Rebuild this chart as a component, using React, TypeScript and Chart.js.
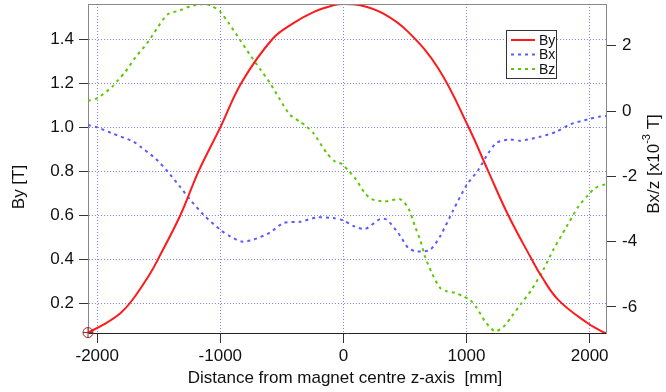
import React, { useEffect, useRef } from 'react';
import { Chart, registerables } from 'chart.js';

Chart.register(...registerables);

const FONT = '"Liberation Sans", Arial, Helvetica, sans-serif';

const xTicks = [-2000, -1000, 0, 1000, 2000];
const leftTicks = [0.2, 0.4, 0.6, 0.8, 1.0, 1.2, 1.4];
const rightTicks = [-6, -4, -2, 0, 2];

const xMin = -2075;
const xMax = 2133;
const leftMin = 0.064;
const leftMax = 1.562;
const rightMin = -6.8;
const rightMax = 3.28;

const byX = [-2075, -1950, -1812, -1718, -1569, -1506, -1325, -1177, -1000, -825, -573, -406, -243, -81, 0, 136, 325, 528, 771, 1015, 1177, 1339, 1529, 1610, 1745, 1976, 2110, 2133];
const byValues = [0.066, 0.102, 0.154, 0.212, 0.336, 0.4, 0.6, 0.8, 1.0, 1.207, 1.405, 1.475, 1.525, 1.556, 1.562, 1.556, 1.518, 1.434, 1.268, 1.003, 0.8, 0.6, 0.4, 0.321, 0.215, 0.112, 0.068, 0.064];

const bxX = [-2075, -2000, -1880, -1705, -1650, -1528, -1433, -1325, -1244, -1136, -1000, -920, -825, -731, -595, -487, -351, -216, -81, 0, 81, 176, 298, 352, 446, 528, 596, 704, 785, 893, 1002, 1096, 1177, 1245, 1353, 1434, 1597, 1732, 1840, 1989, 2084, 2133];
const bxValues = [-0.43, -0.5, -0.68, -0.94, -1.09, -1.45, -1.83, -2.33, -2.72, -3.18, -3.64, -3.84, -4.0, -3.94, -3.72, -3.43, -3.39, -3.26, -3.28, -3.35, -3.52, -3.61, -3.31, -3.33, -3.74, -4.2, -4.3, -4.25, -3.84, -3.03, -2.26, -1.8, -1.29, -0.97, -0.87, -0.91, -0.79, -0.63, -0.41, -0.25, -0.17, -0.15];

const bzX = [-2075, -2002, -1880, -1826, -1772, -1691, -1596, -1515, -1429, -1325, -1244, -1123, -1068, -1000, -933, -838, -757, -676, -595, -514, -433, -351, -297, -243, -135, -67, -13, 41, 95, 176, 230, 338, 460, 528, 582, 623, 663, 718, 785, 839, 907, 974, 1028, 1083, 1150, 1231, 1301, 1367, 1448, 1529, 1624, 1705, 1813, 1908, 1989, 2043, 2113, 2133];
const bzValues = [0.315, 0.39, 0.74, 0.97, 1.2, 1.64, 2.07, 2.53, 2.96, 3.09, 3.21, 3.28, 3.22, 3.04, 2.7, 2.17, 1.71, 1.28, 0.85, 0.34, -0.12, -0.33, -0.48, -0.68, -1.29, -1.55, -1.62, -1.83, -2.06, -2.52, -2.7, -2.77, -2.7, -2.98, -3.54, -3.94, -4.46, -4.96, -5.42, -5.52, -5.57, -5.68, -5.78, -6.03, -6.44, -6.75, -6.61, -6.29, -5.88, -5.47, -4.86, -4.25, -3.54, -2.93, -2.57, -2.36, -2.26, -2.24];

const seriesNames = ['By', 'Bx', 'Bz'];
const seriesColors = ['#ff1a1a', '#5a5aff', '#5cc800'];

const xTitle = 'Distance from magnet centre z-axis  [mm]';
const leftTitle = 'By [T]';
const rightTitleParts = ['Bx/z [x10', '-3', ' T]'];

const toPoints = (xs: number[], ys: number[]) => xs.map((x, i) => ({ x, y: ys[i] }));

const noPad = (s: any) => {
  s.paddingTop = 0;
  s.paddingBottom = 0;
  s.paddingLeft = 0;
  s.paddingRight = 0;
};

const decorPlugin = {
  id: 'decor',
  afterDatasetsDraw(chart: any) {
    const { ctx, chartArea } = chart;
    ctx.save();
    // top frame line
    ctx.strokeStyle = '#888';
    ctx.lineWidth = 1;
    ctx.beginPath();
    ctx.moveTo(chartArea.left, Math.round(chartArea.top) + 0.5);
    ctx.lineTo(chartArea.right, Math.round(chartArea.top) + 0.5);
    ctx.stroke();

    // start marker on first By point
    const meta = chart.getDatasetMeta(0);
    const p0 = meta.data[0];
    if (p0) {
      ctx.strokeStyle = '#9a2a2a';
      ctx.lineWidth = 1;
      ctx.beginPath();
      ctx.arc(p0.x, p0.y, 5, 0, Math.PI * 2);
      ctx.moveTo(p0.x - 5, p0.y);
      ctx.lineTo(p0.x + 5, p0.y);
      ctx.moveTo(p0.x, p0.y - 5);
      ctx.lineTo(p0.x, p0.y + 5);
      ctx.stroke();
    }

    // legend
    const lx = 506.5, ly = 30.5, lw = 50, lh = 48;
    ctx.fillStyle = '#fff';
    ctx.fillRect(lx, ly, lw, lh);
    ctx.strokeStyle = '#333';
    ctx.lineWidth = 1;
    ctx.strokeRect(lx, ly, lw, lh);
    const rows = [40, 54.5, 69];
    const dashes = [[], [3, 4], [3, 4]];
    ctx.font = `14px ${FONT}`;
    ctx.textBaseline = 'middle';
    ctx.textAlign = 'left';
    seriesNames.forEach((name, i) => {
      ctx.save();
      ctx.strokeStyle = seriesColors[i];
      ctx.lineWidth = 2;
      ctx.setLineDash(dashes[i]);
      ctx.beginPath();
      ctx.moveTo(511, rows[i]);
      ctx.lineTo(535, rows[i]);
      ctx.stroke();
      ctx.restore();
      ctx.fillStyle = '#111';
      ctx.fillText(name, 539, rows[i] + 1);
    });

    // axis titles
    ctx.fillStyle = '#111';
    ctx.font = `17px ${FONT}`;
    ctx.textAlign = 'center';
    ctx.textBaseline = 'middle';
    ctx.fillText(xTitle, 345, 378);

    ctx.save();
    ctx.translate(19, 187);
    ctx.rotate(-Math.PI / 2);
    ctx.fillText(leftTitle, 0, 0);
    ctx.restore();

    // right title with superscript
    ctx.save();
    ctx.translate(654, 164);
    ctx.rotate(-Math.PI / 2);
    ctx.textAlign = 'left';
    const big = `17px ${FONT}`;
    const small = `11px ${FONT}`;
    ctx.font = big;
    const w1 = ctx.measureText(rightTitleParts[0]).width;
    const w3 = ctx.measureText(rightTitleParts[2]).width;
    ctx.font = small;
    const w2 = ctx.measureText(rightTitleParts[1]).width;
    const total = w1 + w2 + w3;
    let cx = -total / 2;
    ctx.font = big;
    ctx.fillText(rightTitleParts[0], cx, 0);
    cx += w1;
    ctx.font = small;
    ctx.fillText(rightTitleParts[1], cx, -7);
    cx += w2;
    ctx.font = big;
    ctx.fillText(rightTitleParts[2], cx, 0);
    ctx.restore();

    ctx.restore();
  },
};

export default function App() {
  const canvasRef = useRef<HTMLCanvasElement | null>(null);

  useEffect(() => {
    const canvas = canvasRef.current;
    if (!canvas) return;
    const tickFont = { family: FONT, size: 17 };
    const chart = new Chart(canvas, {
      type: 'line',
      data: {
        datasets: [
          {
            label: seriesNames[0],
            data: toPoints(byX, byValues),
            borderColor: seriesColors[0],
            borderWidth: 2,
            pointRadius: 0,
            tension: 0.4,
            yAxisID: 'y',
          },
          {
            label: seriesNames[1],
            data: toPoints(bxX, bxValues),
            borderColor: seriesColors[1],
            borderWidth: 2,
            borderDash: [3, 4],
            pointRadius: 0,
            tension: 0.25,
            yAxisID: 'y2',
          },
          {
            label: seriesNames[2],
            data: toPoints(bzX, bzValues),
            borderColor: seriesColors[2],
            borderWidth: 2,
            borderDash: [3, 4],
            pointRadius: 0,
            tension: 0.25,
            yAxisID: 'y2',
          },
        ],
      },
      options: {
        responsive: false,
        animation: false,
        events: [],
        layout: { padding: { top: 4, left: 0, right: 0, bottom: 0 } },
        plugins: { legend: { display: false }, tooltip: { enabled: false }, title: { display: false } },
        scales: {
          x: {
            type: 'linear',
            position: 'bottom',
            min: xMin,
            max: xMax,
            afterBuildTicks: (s: any) => { s.ticks = xTicks.map((v) => ({ value: v })); },
            afterFit: (s: any) => { s.height = 59; noPad(s); },
            ticks: { font: tickFont, color: '#111', padding: 3, maxRotation: 0, autoSkip: false, callback: (v: any) => String(v) },
            grid: { color: '#8080ff', lineWidth: 1, tickLength: 10, tickColor: '#333', tickWidth: 1, tickBorderDash: [] },
            border: { color: '#222', width: 1, dash: [1, 2] },
          },
          y: {
            type: 'linear',
            position: 'left',
            min: leftMin,
            max: leftMax,
            afterBuildTicks: (s: any) => { s.ticks = leftTicks.map((v) => ({ value: v })); },
            afterFit: (s: any) => { s.width = 88; noPad(s); },
            ticks: { font: tickFont, color: '#111', padding: 5, autoSkip: false, callback: (v: any) => Number(v).toFixed(1) },
            grid: { color: '#8080ff', lineWidth: 1, tickLength: 9, tickColor: '#333', tickWidth: 1, tickBorderDash: [] },
            border: { color: '#888', width: 1, dash: [1, 2] },
          },
          y2: {
            type: 'linear',
            position: 'right',
            min: rightMin,
            max: rightMax,
            afterBuildTicks: (s: any) => { s.ticks = rightTicks.map((v) => ({ value: v })); },
            afterFit: (s: any) => { s.width = 60; noPad(s); },
            ticks: { font: tickFont, color: '#111', padding: 6, autoSkip: false, callback: (v: any) => String(v) },
            grid: { drawOnChartArea: false, tickLength: 10, tickColor: '#333', tickWidth: 1, tickBorderDash: [] },
            border: { color: '#888', width: 1 },
          },
        },
      },
      plugins: [decorPlugin],
    } as any);
    return () => chart.destroy();
  }, []);

  return (
    <div style={{ position: 'absolute', left: 0, top: 0, width: 666, height: 392, background: '#fff' }}>
      <canvas ref={canvasRef} width={666} height={392} style={{ display: 'block' }} />
    </div>
  );
}
